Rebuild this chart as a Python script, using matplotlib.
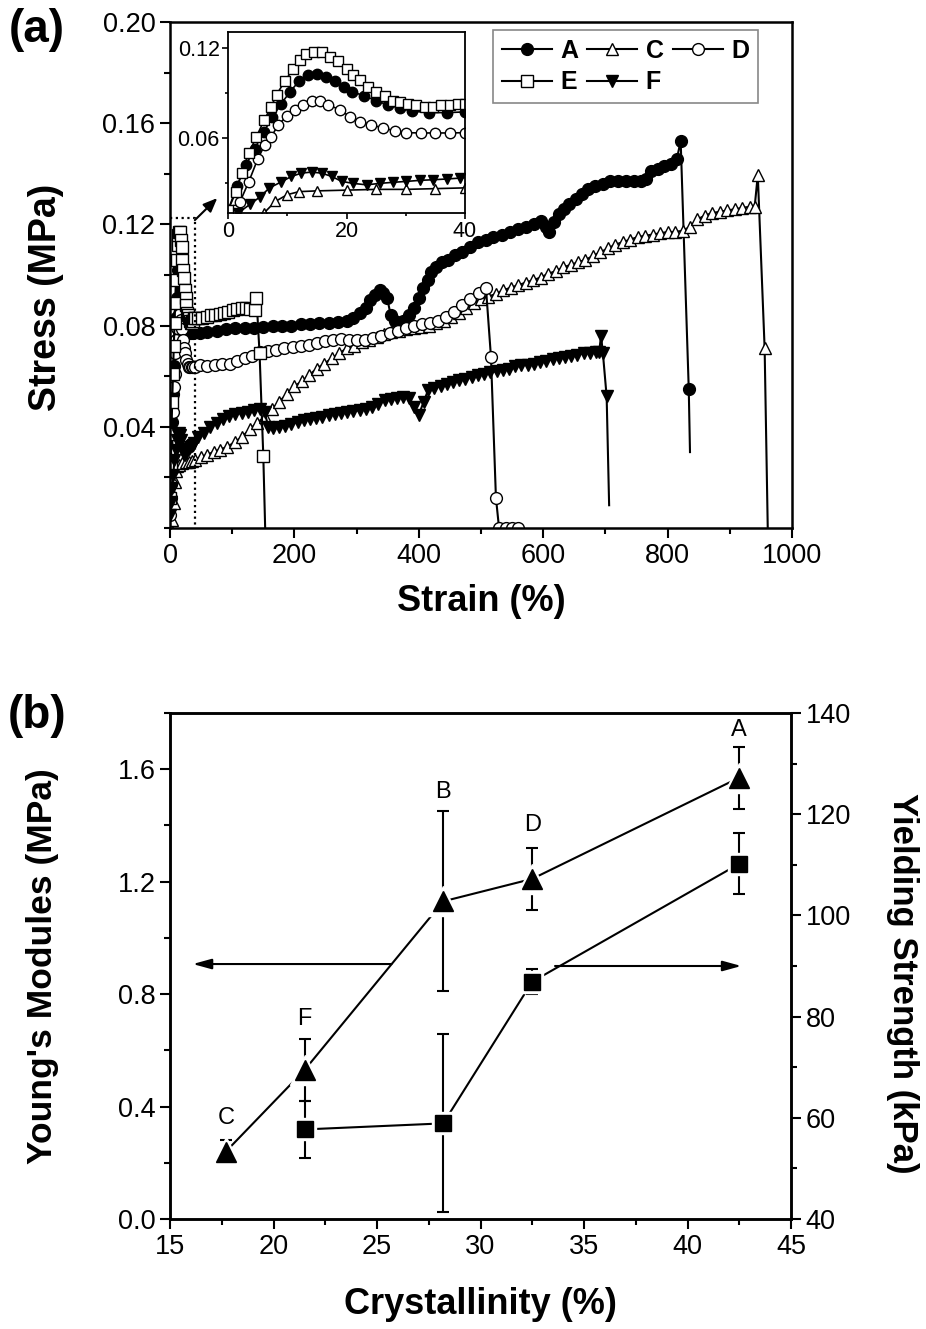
import matplotlib
matplotlib.use('Agg')
import matplotlib.pyplot as plt
from matplotlib.ticker import MultipleLocator, FormatStrFormatter

plt.rcParams['font.family'] = ['Liberation Sans', 'DejaVu Sans']

### PANEL (a) DATA: stress-strain curves
A_strain = [0, 1.5, 3, 4.5, 6, 7.5, 9, 10.5, 12, 13.5, 15, 16.5, 18, 19.5, 21, 23, 25, 27, 29, 31,
            34, 37, 40, 48, 60, 75, 90, 105, 120, 135, 150, 165, 180, 195, 210, 225, 240, 255, 270, 285,
            295, 305, 315, 322, 330, 337, 343, 349, 355, 362, 375, 385, 392, 400, 407, 414, 420, 427, 437, 447,
            458, 470, 483, 495, 508, 520, 533, 546, 560, 573, 585, 597, 604, 610, 617, 626, 634, 642, 652, 662,
            672, 684, 696, 708, 720, 733, 746, 758, 766, 774, 784, 795, 806, 815, 821, 834, 836]
A_stress = [0.012, 0.028, 0.042, 0.053, 0.064, 0.074, 0.083, 0.091, 0.098, 0.102, 0.103, 0.101, 0.098, 0.094, 0.091, 0.088, 0.085, 0.082, 0.080, 0.078,
            0.077, 0.077, 0.0775, 0.077, 0.0775, 0.078, 0.0785, 0.079, 0.079, 0.079, 0.0795, 0.080, 0.080, 0.080, 0.0805, 0.0805, 0.081, 0.081, 0.0815, 0.082,
            0.083, 0.085, 0.087, 0.090, 0.092, 0.094, 0.093, 0.091, 0.084, 0.082, 0.082, 0.084, 0.087, 0.091, 0.095, 0.098, 0.101, 0.103, 0.105, 0.106,
            0.108, 0.109, 0.111, 0.113, 0.114, 0.115, 0.116, 0.117, 0.118, 0.119, 0.120, 0.1215, 0.119, 0.117, 0.121, 0.124, 0.126, 0.128, 0.130, 0.132,
            0.134, 0.135, 0.136, 0.137, 0.137, 0.137, 0.137, 0.137, 0.138, 0.141, 0.142, 0.143, 0.144, 0.146, 0.153, 0.055, 0.030]

C_strain = [0, 3, 6, 8, 10, 12, 15, 20, 25, 30, 35, 40, 50, 60, 70, 80, 92, 104, 116, 128,
            140, 152, 164, 176, 188, 200, 212, 224, 236, 248, 260, 272, 284, 296, 308, 320, 332, 344, 356, 368,
            380, 392, 404, 416, 428, 440, 452, 464, 476, 488, 500, 512, 524, 536, 548, 560, 572, 584, 596, 608,
            620, 632, 644, 656, 668, 680, 692, 704, 716, 728, 740, 752, 764, 776, 788, 800, 812, 824, 836, 848,
            860, 872, 884, 896, 908, 920, 932, 940, 945, 956, 961]
C_stress = [0.0, 0.003, 0.010, 0.018, 0.0225, 0.0245, 0.025, 0.0255, 0.026, 0.026, 0.0265, 0.027, 0.028, 0.029, 0.030, 0.031, 0.032, 0.034, 0.036, 0.039,
            0.0415, 0.044, 0.047, 0.050, 0.053, 0.056, 0.058, 0.0605, 0.063, 0.065, 0.067, 0.069, 0.071, 0.072, 0.0735, 0.0745, 0.0755, 0.0765, 0.0775, 0.078,
            0.0785, 0.079, 0.0795, 0.080, 0.081, 0.082, 0.0835, 0.085, 0.087, 0.089, 0.0905, 0.0915, 0.0925, 0.094, 0.095, 0.096, 0.097, 0.098, 0.099, 0.1005,
            0.1015, 0.103, 0.104, 0.105, 0.106, 0.1075, 0.109, 0.1105, 0.112, 0.113, 0.114, 0.115, 0.1155, 0.116, 0.1165, 0.117, 0.117, 0.1175, 0.119, 0.122,
            0.1235, 0.1245, 0.125, 0.1255, 0.126, 0.1265, 0.127, 0.127, 0.1395, 0.071, 0.0]

D_strain = [0, 1, 2, 3.5, 5, 6.2, 7.3, 8.5, 9.9, 11.3, 12.7, 14.1, 15.5, 16.9, 18.9, 20.6, 22.3, 24.2, 26.2, 28.2,
            30.1, 32.5, 35, 37.5, 40, 48, 60, 72, 84, 96, 108, 120, 132, 145, 158, 171, 184, 197, 210, 223,
            236, 249, 262, 275, 288, 301, 314, 327, 340, 353, 366, 379, 392, 405, 418, 431, 444, 457, 470, 483,
            496, 508, 516, 524, 529, 540, 550, 560]
D_stress = [0.005, 0.012, 0.0175, 0.031, 0.046, 0.0556, 0.061, 0.069, 0.0745, 0.079, 0.0823, 0.0845, 0.0845, 0.0823, 0.0788, 0.0743, 0.071, 0.069, 0.0666, 0.065,
            0.0637, 0.0635, 0.0635, 0.0635, 0.0637, 0.0645, 0.064, 0.0645, 0.065, 0.065, 0.066, 0.067, 0.068, 0.0695, 0.070, 0.0705, 0.071, 0.0715, 0.072, 0.0725,
            0.073, 0.074, 0.0745, 0.0748, 0.0745, 0.0743, 0.0745, 0.075, 0.076, 0.077, 0.078, 0.079, 0.080, 0.0805, 0.081, 0.082, 0.0835, 0.0855, 0.088, 0.0905,
            0.093, 0.0948, 0.0677, 0.012, 0.0, 0.0, 0.0, 0.0]

E_strain = [0, 1.3, 2.3, 3.5, 4.8, 6.1, 7.3, 8.2, 9.6, 11, 12.1, 13.2, 14.5, 15.8, 17.2, 18.6, 20, 21.1, 22.3, 23.7,
            25, 26.5, 27.9, 29, 30.4, 31.8, 33.3, 34.6, 36, 37.5, 38.9, 40, 45, 52, 59, 66, 73, 80, 87, 94,
            101, 108, 115, 122, 129, 136, 139, 144, 150, 153]
E_stress = [0.012, 0.024, 0.037, 0.05, 0.061, 0.072, 0.081, 0.089, 0.098, 0.106, 0.112, 0.116, 0.117, 0.117, 0.114, 0.111, 0.106, 0.102, 0.099, 0.094,
            0.091, 0.088, 0.085, 0.084, 0.083, 0.082, 0.081, 0.081, 0.082, 0.082, 0.083, 0.083, 0.083, 0.0832, 0.0835, 0.084, 0.0843, 0.0847, 0.085, 0.0855,
            0.086, 0.0865, 0.087, 0.0868, 0.0865, 0.086, 0.091, 0.069, 0.0285, 0.0]

F_strain = [0, 1.7, 3.7, 5.4, 7, 9, 10.7, 12.4, 14.1, 15.8, 17.5, 19.2, 21.1, 23.4, 25.6, 27.9, 30.1, 32.4, 34.6, 36.9,
            39.2, 45, 55, 65, 75, 85, 95, 105, 115, 125, 135, 145, 152, 158, 165, 175, 185, 195, 205, 215,
            225, 235, 245, 255, 265, 275, 285, 295, 305, 315, 325, 335, 345, 355, 365, 375, 385, 392, 400, 408,
            415, 425, 435, 445, 455, 465, 475, 485, 495, 505, 515, 525, 535, 545, 555, 565, 575, 585, 595, 605,
            615, 625, 635, 645, 655, 665, 675, 685, 690, 693, 696, 702, 706]
F_stress = [0.005, 0.0103, 0.016, 0.021, 0.027, 0.031, 0.0346, 0.0368, 0.0375, 0.0368, 0.0346, 0.0313, 0.030, 0.029, 0.030, 0.0307, 0.0313, 0.032, 0.0324, 0.0329,
            0.0335, 0.036, 0.0375, 0.040, 0.0415, 0.043, 0.0443, 0.045, 0.0455, 0.046, 0.0465, 0.047, 0.046, 0.040, 0.0395, 0.040, 0.0405, 0.041, 0.0418, 0.0425,
            0.043, 0.0435, 0.044, 0.0447, 0.045, 0.0455, 0.046, 0.0462, 0.0466, 0.047, 0.048, 0.049, 0.0505, 0.051, 0.0515, 0.0518, 0.0515, 0.048, 0.0447, 0.050,
            0.0545, 0.0555, 0.056, 0.057, 0.0578, 0.0585, 0.059, 0.0597, 0.0605, 0.061, 0.0615, 0.062, 0.0625, 0.063, 0.064, 0.0643, 0.0645, 0.065, 0.0655, 0.066,
            0.0667, 0.067, 0.0675, 0.068, 0.0685, 0.069, 0.0693, 0.0697, 0.0697, 0.076, 0.069, 0.052, 0.009]

### PANEL (b) DATA
samples = ['C', 'F', 'B', 'D', 'A']
cryst = [17.7, 21.5, 28.2, 32.5, 42.5]
modulus = [0.24, 0.53, 1.13, 1.21, 1.57]
modulus_err = [0.04, 0.11, 0.32, 0.11, 0.11]
cryst_ys = [21.5, 28.2, 32.5, 42.5]
yield_str = [57.7, 58.9, 86.9, 110.2]
yield_err = [5.7, 17.6, 2.5, 6.0]


def style_ticks(ax, size=19.5, length=7):
    ax.tick_params(which='major', direction='out', length=length, width=1.5, labelsize=size)
    ax.tick_params(which='minor', direction='out', length=length * 0.6, width=1.5)
    for s in ax.spines.values():
        s.set_linewidth(1.8)


fig = plt.figure(figsize=(9.26, 13.29), dpi=100)
W, H = 926., 1329.

### PANEL (a)
ax1 = fig.add_axes([170 / W, 1 - 528 / H, 622 / W, 506 / H])
series = [
    ('A', A_strain, A_stress, 'o', 'k', True),
    ('C', C_strain, C_stress, '^', 'w', True),
    ('D', D_strain, D_stress, 'o', 'w', False),
    ('E', E_strain, E_stress, 's', 'w', True),
    ('F', F_strain, F_stress, 'v', 'k', True),
]
handles = {}
for name, xs, ys, mk, fc, skip_last in series:
    n = len(xs)
    mev = list(range(n - 1)) if skip_last else None
    ln, = ax1.plot(xs, ys, color='k', lw=1.5, marker=mk, mfc=fc, mec='k', mew=1.0,
                   ms=8.5, markevery=mev, label=name)
    handles[name] = ln

ax1.plot([0, 40, 40], [0.1225, 0.1225, 0], color='k', lw=1.6, ls=(0, (1, 1.6)))
ax1.annotate('', xy=(76, 0.1304), xytext=(40, 0.1217),
             arrowprops=dict(arrowstyle='-|>,head_length=0.6,head_width=0.25', color='k', lw=1.5,
                             shrinkA=0, shrinkB=0, mutation_scale=14))

ax1.set_xlim(0, 1000)
ax1.set_ylim(0, 0.20)
ax1.xaxis.set_major_locator(MultipleLocator(200))
ax1.xaxis.set_minor_locator(MultipleLocator(100))
ax1.set_yticks([0.04, 0.08, 0.12, 0.16, 0.20])
ax1.yaxis.set_minor_locator(MultipleLocator(0.02))
ax1.yaxis.set_major_formatter(FormatStrFormatter('%.2f'))
style_ticks(ax1)
ax1.set_xlabel('Strain (%)', fontsize=26, fontweight='bold')
ax1.xaxis.set_label_coords(0.5, -0.11)
ax1.set_ylabel('Stress (MPa)', fontsize=27, fontweight='bold')
ax1.yaxis.set_label_coords(-0.17, 0.455)

order = ['A', 'E', 'C', 'F', 'D']
leg = ax1.legend([handles[k] for k in order], order, ncol=3, loc='upper left',
                 bbox_to_anchor=(0.519, 0.984), borderaxespad=0, numpoints=1,
                 prop={'weight': 'bold', 'size': 18}, handlelength=2.0, handletextpad=0.35,
                 columnspacing=0.35, labelspacing=0.3, fancybox=False, framealpha=1,
                 borderpad=0.35)
leg.get_frame().set_edgecolor('#888888')
leg.get_frame().set_linewidth(1.2)

# inset: first 40 % strain
axi = fig.add_axes([228 / W, 1 - 213 / H, 237 / W, 181 / H])
for name, xs, ys, mk, fc, skip_last in series:
    axi.plot(xs, ys, color='k', lw=1.2, marker=mk, mfc=fc, mec='k', mew=1.0, ms=7.5)
axi.set_xlim(0, 40)
axi.set_ylim(0.0103, 0.1306)
axi.set_xticks([0, 20, 40])
axi.xaxis.set_minor_locator(MultipleLocator(10))
axi.set_yticks([0.06, 0.12])
axi.yaxis.set_minor_locator(MultipleLocator(0.03))
axi.yaxis.set_major_formatter(FormatStrFormatter('%.2f'))
axi.tick_params(which='major', direction='out', length=4, width=1.2, labelsize=15.5, pad=2)
axi.tick_params(which='minor', direction='out', length=2.5, width=1.2)
for s in axi.spines.values():
    s.set_linewidth(1.3)

fig.text(37 / W, 1 - 30 / H, '(a)', fontsize=33, fontweight='bold', ha='center', va='center')

### PANEL (b)
ax2 = fig.add_axes([170 / W, 1 - 1219 / H, 621 / W, 506 / H])
ax3 = ax2.twinx()

ax2.errorbar(cryst, modulus, yerr=modulus_err, color='k', lw=1.5, elinewidth=1.5,
             capsize=4, capthick=1.5, zorder=2)
ax2.plot(cryst, modulus, ls='none', marker='^', ms=21, color='w', zorder=3)
ax2.plot(cryst, modulus, ls='none', marker='^', ms=15, color='k', zorder=4)
label_y = [0.36, 0.71, 1.52, 1.40, 1.74]
for s, x, y in zip(samples, cryst, label_y):
    ax2.text(x, y, s, fontsize=17, ha='center', va='center')

ax3.errorbar(cryst_ys, yield_str, yerr=yield_err, color='k', lw=1.5, elinewidth=1.5,
             capsize=4, capthick=1.5, zorder=2)
ax3.plot(cryst_ys, yield_str, ls='none', marker='s', ms=16, color='w', zorder=3)
ax3.plot(cryst_ys, yield_str, ls='none', marker='s', ms=11, color='k', zorder=4)

arrow_kw = dict(arrowstyle='-|>,head_length=0.8,head_width=0.22', color='k', lw=1.5,
                shrinkA=0, shrinkB=0, mutation_scale=14)
ax2.annotate('', xy=(16.1, 0.907), xytext=(25.7, 0.907), arrowprops=arrow_kw)
ax3.annotate('', xy=(42.6, 90), xytext=(33.6, 90), arrowprops=arrow_kw)

ax2.set_xlim(15, 45)
ax2.set_ylim(0, 1.8)
ax3.set_ylim(40, 140)
ax2.xaxis.set_major_locator(MultipleLocator(5))
ax2.xaxis.set_minor_locator(MultipleLocator(2.5))
ax2.yaxis.set_major_locator(MultipleLocator(0.4))
ax2.yaxis.set_minor_locator(MultipleLocator(0.2))
ax2.yaxis.set_major_formatter(FormatStrFormatter('%.1f'))
ax3.yaxis.set_major_locator(MultipleLocator(20))
ax3.yaxis.set_minor_locator(MultipleLocator(10))
style_ticks(ax2)
style_ticks(ax3)
ax2.set_xlabel('Crystallinity (%)', fontsize=26, fontweight='bold')
ax2.xaxis.set_label_coords(0.5, -0.135)
ax2.set_ylabel("Young's Modules (MPa)", fontsize=25.5, fontweight='bold')
ax2.yaxis.set_label_coords(-0.179, 0.5)
fig.text(903 / W, 1 - 983 / H, 'Yielding Strength (kPa)', fontsize=25, fontweight='bold',
         rotation=270, ha='center', va='center')

fig.text(37 / W, 1 - 716 / H, '(b)', fontsize=33, fontweight='bold', ha='center', va='center')

fig.savefig('out.png', dpi=100)
